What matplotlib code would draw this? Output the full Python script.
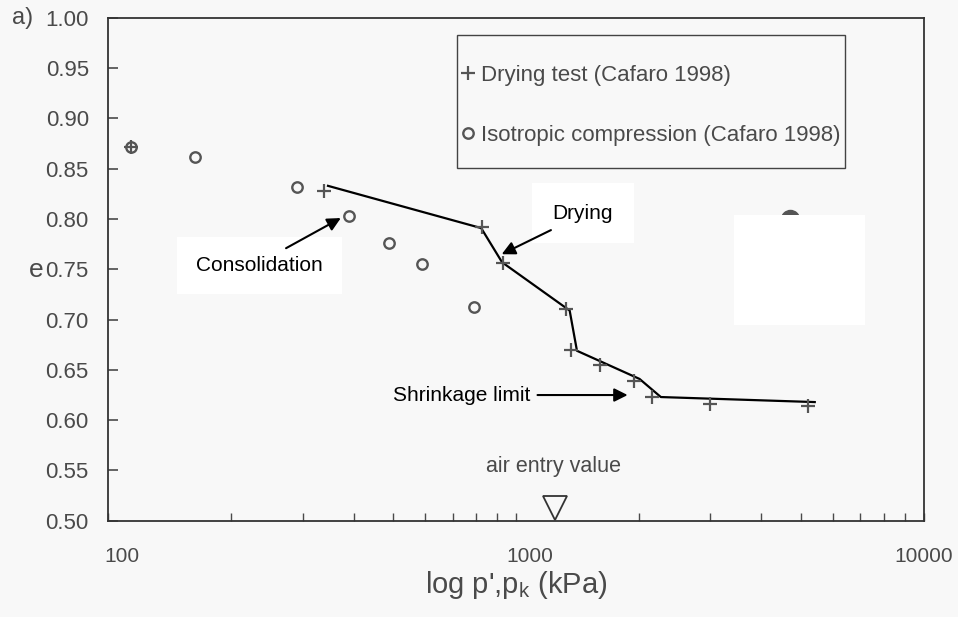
import numpy as np
import matplotlib.pyplot as plt
from matplotlib.patches import Rectangle
from matplotlib.transforms import ScaledTranslation

plt.rcParams['font.family'] = ['Liberation Sans', 'DejaVu Sans']

# drying test (Cafaro 1998): pressure kPa, void ratio
dry_p = [114, 338, 825, 930, 1326, 1364, 1607, 1947, 2154, 2990, 5196]
dry_e = [0.872, 0.828, 0.792, 0.756, 0.711, 0.670, 0.655, 0.639, 0.623, 0.616, 0.614]

# isotropic compression (Cafaro 1998)
iso_p = [114, 163, 290, 390, 488, 588, 789]
iso_e = [0.872, 0.862, 0.832, 0.803, 0.776, 0.755, 0.713]

# drying path drawn through the data
path_p = [346, 822, 925, 1355, 1412, 2011, 2268, 5410]
path_e = [0.833, 0.791, 0.757, 0.709, 0.669, 0.641, 0.623, 0.618]

air_entry_p = 1250

bg = '#f8f8f8'
grey = '#4a4a4a'

fig = plt.figure(figsize=(9.58, 6.17), dpi=100, facecolor=bg)
ax = fig.add_axes([0.113, 0.156, 0.851, 0.815])
ax.set_facecolor(bg)

ax.plot(path_p, path_e, color='black', lw=1.6, zorder=3)
ax.plot(dry_p, dry_e, ls='none', marker='+', ms=10, mew=1.6, color='#555555',
        label='Drying test (Cafaro 1998)', zorder=4)
ax.plot(iso_p, iso_e, ls='none', marker='o', ms=7.5, mew=1.7, mfc='none',
        mec='#555555', label='Isotropic compression (Cafaro 1998)', zorder=4)

ax.set_xscale('log')
ax.set_xlim(100, 10000)
ax.set_ylim(0.5, 1.0)
ax.set_yticks(np.arange(0.5, 1.001, 0.05))
ax.set_yticklabels(['%.2f' % v for v in np.arange(0.5, 1.001, 0.05)])
ax.set_xticks([100, 1000, 10000])
ax.set_xticklabels(['100', '1000', '10000'])

ax.tick_params(axis='y', direction='in', length=7, width=1.2, pad=14,
               labelsize=16, labelcolor=grey, color=grey)
ax.tick_params(axis='x', which='both', direction='in', length=6, width=1.0,
               pad=19, labelsize=15, labelcolor=grey, color=grey)
for lab in ax.get_xticklabels()[:2]:
    lab.set_transform(lab.get_transform() + ScaledTranslation(0.14, 0, fig.dpi_scale_trans))
for s in ax.spines.values():
    s.set_color('#333333')
    s.set_linewidth(1.3)

ax.set_xlabel("log p',p$_\\mathregular{k}$ (kPa)", fontsize=21, color=grey, labelpad=2)
fig.text(0.038, 0.563, 'e', fontsize=19, color=grey, ha='center', va='center')
fig.text(33 / 958, 0.971, 'a)', fontsize=17, color=grey, ha='right', va='center')

# legend entries without frame, box drawn separately
leg = ax.legend(loc='upper left', bbox_to_anchor=(0.434, 0.906), fontsize=16,
                handlelength=0.5, handletextpad=0.35, labelspacing=1.75,
                borderpad=0, borderaxespad=0, frameon=False)
for t in leg.get_texts():
    t.set_color(grey)
ax.add_patch(Rectangle((0.428, 0.702), 0.4755, 0.2644, transform=ax.transAxes,
                       fc='none', ec='#444444', lw=1.0, zorder=5))

arrow = dict(arrowstyle='-|>', color='black', lw=1.5, mutation_scale=20,
             shrinkA=0, shrinkB=0)
box = dict(boxstyle='square,pad=0.9', fc='white', ec='none')

ax.text(235, 0.754, 'Consolidation', fontsize=15, ha='center', va='center',
        bbox=box, zorder=2)
ax.annotate('', xy=(372, 0.801), xytext=(273, 0.771), arrowprops=arrow, zorder=5)

ax.text(1459, 0.806, 'Drying', fontsize=15, ha='center', va='center',
        bbox=dict(boxstyle='square,pad=1.0', fc='white', ec='none'), zorder=2)
ax.annotate('', xy=(923, 0.765), xytext=(1219, 0.789), arrowprops=arrow, zorder=5)

ax.text(1088, 0.625, 'Shrinkage limit', fontsize=15, ha='right', va='center', zorder=2)
ax.annotate('', xy=(1880, 0.625), xytext=(1130, 0.625), arrowprops=arrow, zorder=5)

ax.text(1236, 0.554, 'air entry value', fontsize=15.5, color=grey, ha='center', va='center')
ax.plot([air_entry_p], [0.513], ls='none', marker='v', ms=17, mfc='none',
        mec='#333333', mew=1.3, clip_on=False)

# blanked-out mark on the right
ax.plot([4700], [0.80], ls='none', marker='o', ms=13, color='#555555', zorder=1)
ax.add_patch(Rectangle((0.768, 0.39), 0.16, 0.218, transform=ax.transAxes,
                       fc='white', ec='none', zorder=2))

fig.savefig('out.png', dpi=100, facecolor=bg)
